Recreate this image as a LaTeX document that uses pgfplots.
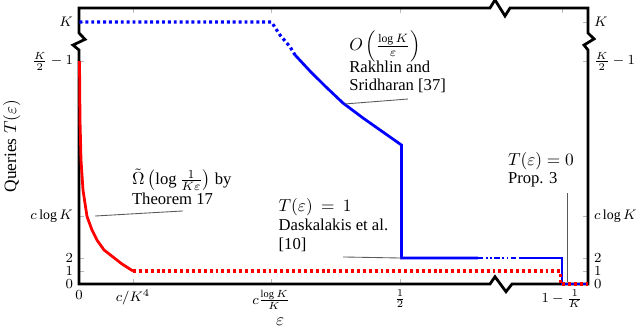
\documentclass[border=0pt]{standalone}
\usepackage{fontspec}
\setmainfont{Liberation Serif}
\usepackage{amsmath}
\usepackage{pgfplots}
\pgfplotsset{compat=1.18}

% curves, x in px from left border, y in units of 13px
\pgfplotstableread{
x y
0.5 17.15
1 12.6
2 9.54
4 7.23
8 5.2
13 4.15
18 3.38
25 2.62
34 2.08
43 1.54
54 1
}\lowerbound

\pgfplotstableread{
x y
216 17.62
231 16.38
246 15.23
264 13.92
284 12.77
301 11.85
322.5 10.69
322.5 2
399 2
}\upperbound

\begin{document}
\begin{tikzpicture}
\pgfplotsset{
  common/.style={
    x=0.5769pt, y=7.5pt,
    xmin=0, xmax=509, ymin=0, ymax=21.23,
    axis line style={draw=none},
    clip=false,
    tick align=inside, major tick length=3pt,
    tick style={gray!55, thin},
    ticklabel style={font=\footnotesize},
    ytick={0,1,2,5.2,17.15,20.15},
    yticklabels={$0$,$1$,$2$,$c\log K$,$\frac{K}{2}-1$,$K$},
  },
}
\tikzset{
  ann/.style={font=\fontsize{9.6}{10.8}\selectfont, inner sep=0pt},
  pin/.style={black!65, line width=0.5pt},
  thickdots/.style={line width=1.8pt, dash pattern=on 1.7pt off 1.7pt},
}
\begin{axis}[common,
  xtick={0,54,192,321,483},
  xticklabels={$0$,$c/K^4$,$c\frac{\log K}{K}$,$\frac{1}{2}$,$1-\frac{1}{K}$},
  xlabel={$\varepsilon$},
  xlabel style={at={(axis description cs:0.395,-0.138)}, anchor=center},
  ylabel={Queries $T(\varepsilon)$},
  ylabel style={at={(axis description cs:-0.132,0.5)}, anchor=center},
]
% frame with axis breaks
\draw[black, line width=1.6pt]
  (axis cs:0,21.23) -- (axis cs:0,19.31) -- (axis cs:6,18.82) -- (axis cs:-6,18.38)
  -- (axis cs:0,18.0) -- (axis cs:0,0) -- (axis cs:411,0) -- (axis cs:416,0.56)
  -- (axis cs:427,-0.59) -- (axis cs:433,0) -- (axis cs:509,0) -- (axis cs:509,18.0)
  -- (axis cs:505,18.38) -- (axis cs:515,18.85) -- (axis cs:509,19.31)
  -- (axis cs:509,21.23) -- (axis cs:431,21.23) -- (axis cs:426,20.62)
  -- (axis cs:416,21.85) -- (axis cs:411,21.23) -- cycle;

\addplot[blue, thickdots] coordinates {(0.5,20.15) (192.5,20.15) (201,19.15) (211,18.25) (216,17.62)};
\addplot[blue, line width=1.6pt] table {\upperbound};
\addplot[blue, line width=1.6pt, dash pattern=on 3pt off 1.5pt on 1pt off 1.5pt on 1pt off 1.5pt] coordinates {(399,2) (441,2)};
\addplot[blue, line width=1.6pt] coordinates {(441,2) (483,2) (483,0) (509,0)};
\addplot[red, line width=1.6pt] table {\lowerbound};
\addplot[red, thickdots] coordinates {(54,1) (481.5,1) (481.5,0) (509,0)};

% annotations
\node[ann, anchor=west] at (axis cs:270,18.3) {$O\left(\frac{\log K}{\varepsilon}\right)$};
\node[ann, anchor=base west] at (axis cs:270,16.25) {Rakhlin and};
\node[ann, anchor=base west] at (axis cs:270,14.92) {Sridharan [37]};
\draw[pin] (axis cs:266,13.85) -- (axis cs:329,14.23);

\node[ann, anchor=west] at (axis cs:52.7,8.0) {$\tilde{\Omega}\left(\log\frac{1}{K\varepsilon}\right)$ by};
\node[ann, anchor=base west] at (axis cs:52.7,6.13) {Theorem 17};
\draw[pin] (axis cs:16,5.23) -- (axis cs:104,5.62);

\node[ann, anchor=base west] at (axis cs:199.3,5.56) {$T(\varepsilon)$\ \ $=$\ \ $1$};
\node[ann, anchor=base west] at (axis cs:199.3,4.08) {Daskalakis et al.};
\node[ann, anchor=base west] at (axis cs:199.3,2.67) {[10]};
\draw[pin] (axis cs:264,2.08) -- (axis cs:322,2.0);

\node[ann, anchor=base west] at (axis cs:428.7,9.15) {$T(\varepsilon)=0$};
\node[ann, anchor=base west] at (axis cs:428.7,7.75) {Prop. 3};
\draw[pin] (axis cs:488,7.0) -- (axis cs:488,0.15);

\coordinate (bbl) at (axis cs:-79,-3.385);
\coordinate (btr) at (axis cs:561,21.846);
\end{axis}
\begin{axis}[common,
  xtick=\empty,
  yticklabel pos=right,
  major tick length=0pt,
]
\end{axis}
\pgfresetboundingbox
\path (bbl) rectangle (btr);
\end{tikzpicture}
\end{document}
